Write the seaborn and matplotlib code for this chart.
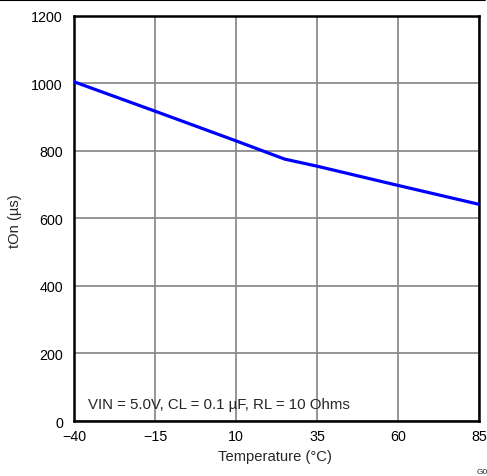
import pandas as pd
import seaborn as sns
import matplotlib.pyplot as plt
from matplotlib.lines import Line2D

# data
temperature = [-40, -15, 10, 25, 35, 60, 85]
t_on = [1005, 918, 830, 776, 755, 698, 642]
x_ticks = [-40, -15, 10, 35, 60, 85]
x_tick_labels = ['\u221240', '\u221215', '10', '35', '60', '85']
y_ticks = [0, 200, 400, 600, 800, 1000, 1200]

df = pd.DataFrame({'Temperature': temperature, 'tOn': t_on})

sns.set_style('white')
plt.rcParams['font.family'] = ['Liberation Sans', 'DejaVu Sans']

fig = plt.figure(figsize=(4.87, 4.77), dpi=100)
ax = fig.add_axes([0.152, 0.1153, 0.8316, 0.8491])

sns.lineplot(data=df, x='Temperature', y='tOn', color='#0000ff', linewidth=2.3, ax=ax, zorder=3)

ax.set_xlim(-40, 85)
ax.set_ylim(0, 1200)
ax.set_xticks(x_ticks)
ax.set_xticklabels(x_tick_labels)
ax.set_yticks(y_ticks)
ax.grid(True, color='#8c8c8c', linewidth=1.3)
ax.tick_params(axis='both', labelsize=10.3, colors='black', length=3, width=1, pad=5)
ax.tick_params(axis='x', length=0, pad=6)
for s in ax.spines.values():
    s.set_color('black')
    s.set_linewidth(1.8)

ax.set_xlabel('Temperature (\u00b0C)', fontsize=10.6)
ax.set_ylabel('tOn (\u00b5s)', fontsize=10.6)
ax.xaxis.set_label_coords(0.497, -0.068)
ax.yaxis.set_label_coords(-0.128, 0.495)

ax.text(0.035, 0.042, 'VIN = 5.0V, CL = 0.1 \u00b5F, RL = 10 Ohms',
        transform=ax.transAxes, ha='left', va='center', fontsize=10.8)

fig.add_artist(Line2D([0, 0.996], [0.997, 0.997], color='black', linewidth=1.5))
fig.text(477 / 487, 1 - 473 / 477, 'G001', fontsize=6, ha='left', va='center')

fig.savefig('out.png', dpi=100)
